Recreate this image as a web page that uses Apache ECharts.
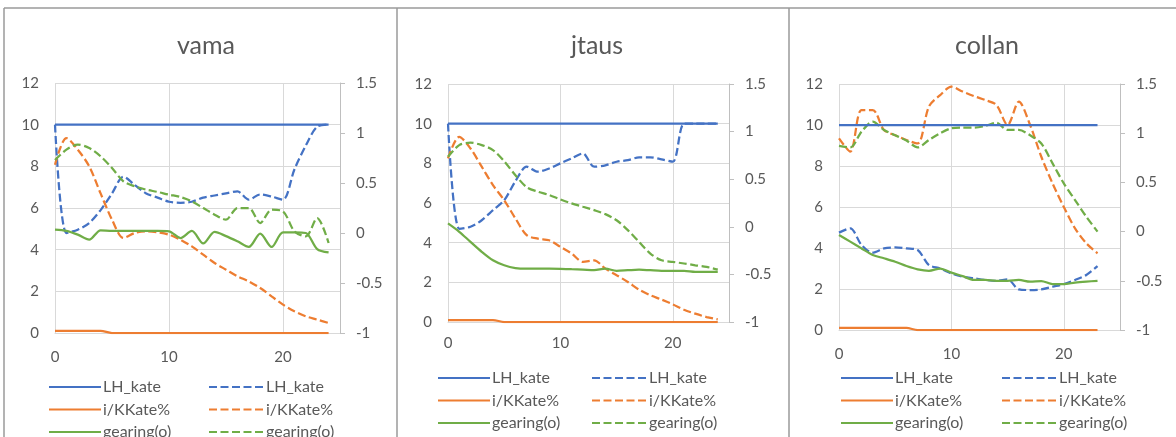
<!DOCTYPE html>
<html>
<head>
<meta charset="utf-8">
<script src="https://cdn.jsdelivr.net/npm/echarts@6/dist/echarts.min.js"></script>
<style>
html,body{margin:0;padding:0;background:#fff;}
#chart{width:1176px;height:437px;}
</style>
</head>
<body>
<div id="chart"></div>
<script>
// ---- data ----
const panelTitles = ['vama', 'jtaus', 'collan'];
const seriesNames = ['LH_kate', 'i/KKate%', 'gearing(o)'];
const leftTicks = { min: 0, max: 12, interval: 2 };
const rightTicks = { min: -1, max: 1.5, interval: 0.5 };
const xTicks = { min: 0, max: 25, interval: 10 };

const xA = [0,1,2,3,4,5,6,7,8,9,10,11,12,13,14,15,16,17,18,19,20,21,22,23,24];
const xC = [0,1,2,3,4,5,6,7,8,9,10,11,12,13,14,15,16,17,18,19,20,21,22,23];

// vama
const vamaLH    = [10,10,10,10,10,10,10,10,10,10,10,10,10,10,10,10,10,10,10,10,10,10,10,10,10];
const vamaKK    = [0.1,0.1,0.1,0.1,0.1,0,0,0,0,0,0,0,0,0,0,0,0,0,0,0,0,0,0,0,0];
const vamaGear  = [4.96,4.9,4.72,4.48,4.93,4.9,4.9,4.9,4.9,4.9,4.88,4.56,4.9,4.3,4.85,4.65,4.4,4.13,4.77,4.13,4.83,4.83,4.8,4.03,3.87];
const vamaLH2   = [10,4.8,4.96,5.28,5.9,6.7,7.5,7.1,6.7,6.5,6.3,6.25,6.3,6.5,6.6,6.7,6.8,6.4,6.65,6.55,6.4,7.85,9.0,9.9,10];
const vamaKK2   = [8.08,9.36,8.8,8.0,6.7,5.44,4.56,4.8,4.88,4.83,4.72,4.48,4.16,3.76,3.36,3.04,2.72,2.48,2.16,1.76,1.36,1.04,0.8,0.64,0.48];
const vamaGear2 = [8.3,8.8,9.04,8.88,8.48,7.92,7.28,7.04,6.88,6.77,6.64,6.53,6.32,6.0,5.68,5.44,6.0,6.0,5.28,5.92,5.84,4.88,4.64,5.52,4.32];

// jtaus
const jtLH    = [10,10,10,10,10,10,10,10,10,10,10,10,10,10,10,10,10,10,10,10,10,10,10,10,10];
const jtKK    = [0.1,0.1,0.1,0.1,0.1,0,0,0,0,0,0,0,0,0,0,0,0,0,0,0,0,0,0,0,0];
const jtGear  = [4.97,4.55,4.04,3.54,3.11,2.86,2.72,2.69,2.69,2.69,2.68,2.66,2.64,2.61,2.69,2.58,2.61,2.64,2.61,2.58,2.58,2.58,2.53,2.53,2.53];
const jtLH2   = [10,4.7,4.8,5.13,5.64,6.14,7.1,7.83,7.58,7.74,8.0,8.25,8.5,7.83,7.9,8.08,8.16,8.3,8.3,8.2,8.08,10,10,10,10];
const jtKK2   = [8.25,9.34,8.75,7.83,6.9,6.14,5.22,4.38,4.2,4.12,3.79,3.45,3.03,3.11,2.69,2.36,2.02,1.63,1.35,1.13,0.89,0.62,0.42,0.25,0.13];
const jtGear2 = [8.33,8.92,9.04,8.92,8.67,8.1,7.4,6.8,6.57,6.4,6.18,5.98,5.81,5.64,5.44,5.13,4.63,4.04,3.45,3.11,3.03,2.95,2.86,2.78,2.64];

// collan
const coLH    = [10,10,10,10,10,10,10,10,10,10,10,10,10,10,10,10,10,10,10,10,10,10,10,10];
const coKK    = [0.1,0.1,0.1,0.1,0.1,0.1,0.1,0,0,0,0,0,0,0,0,0,0,0,0,0,0,0,0,0];
const coGear  = [4.63,4.31,3.98,3.66,3.5,3.33,3.12,2.96,2.89,3.0,2.8,2.63,2.44,2.44,2.4,2.4,2.44,2.36,2.39,2.24,2.24,2.31,2.36,2.4];
const coLH2   = [4.75,4.96,4.15,3.77,3.98,4.03,3.98,3.9,3.17,3.0,2.76,2.6,2.52,2.44,2.4,2.47,1.98,1.95,1.98,2.11,2.24,2.44,2.68,3.12];
const coKK2   = [9.35,8.7,10.73,10.73,9.76,9.5,9.27,9.1,10.9,11.46,11.87,11.63,11.41,11.22,10.98,10.0,11.14,10.0,8.45,7.15,6.0,4.96,4.23,3.74];
const coGear2 = [8.98,8.91,9.67,10.16,9.76,9.5,9.24,8.91,9.27,9.6,9.84,9.87,9.87,9.95,10.11,9.76,9.76,9.5,9.1,8.13,7.15,6.34,5.53,4.8];

const panels = [
  { x: xA, solid: [vamaLH, vamaKK, vamaGear], dashed: [vamaLH2, vamaKK2, vamaGear2] },
  { x: xA, solid: [jtLH, jtKK, jtGear],       dashed: [jtLH2, jtKK2, jtGear2] },
  { x: xC, solid: [coLH, coKK, coGear],       dashed: [coLH2, coKK2, coGear2] }
];

// ---- layout / style ----
const colors = ['#4472C4', '#ED7D31', '#70AD47'];
const FONT = 'Lato';
const txt = '#595959';
const grids = [
  { left: 55,  top: 83, width: 285, height: 250 },
  { left: 448, top: 84, width: 281, height: 238 },
  { left: 839, top: 84, width: 281, height: 246 }
];
const titleX = [201, 592, 982];
const legendPos = [
  { top: 379, c1: 48,  c2: 208 },
  { top: 370, c1: 437, c2: 591 },
  { top: 370, c1: 840, c2: 1001 }
];
const xLabelMargin = [17, 14, 17];

function legendCfg(left, top, data, w) {
  return {
    orient: 'vertical', left: left, top: top, height: 80, padding: 0,
    itemWidth: w, itemHeight: 14, itemGap: 6.5,
    selectedMode: false, data: data,
    itemStyle: { opacity: 0, color: 'rgba(0,0,0,0)', borderWidth: 0 },
    textStyle: { color: txt, fontFamily: FONT, fontSize: 16, padding: [0, 0, 0, -3] }
  };
}

const option = {
  animation: false,
  backgroundColor: '#fff',
  textStyle: { fontFamily: FONT },
  title: panelTitles.map((t, i) => ({
    text: t, left: titleX[i], top: 28, textAlign: 'center',
    textStyle: { fontFamily: FONT, fontSize: 25, fontWeight: 'normal', color: txt }
  })),
  grid: grids,
  xAxis: grids.map((g, i) => ({
    type: 'value', gridIndex: i, min: xTicks.min, max: xTicks.max, interval: xTicks.interval,
    axisLine: { show: true, lineStyle: { color: '#d9d9d9', width: 1 } },
    axisTick: { show: false },
    axisLabel: { color: txt, fontFamily: FONT, fontSize: 15, margin: xLabelMargin[i], showMaxLabel: false },
    splitLine: { show: true, lineStyle: { color: '#d9d9d9', width: 1 } }
  })),
  yAxis: [].concat(...grids.map((g, i) => ([
    {
      type: 'value', gridIndex: i, position: 'left',
      min: leftTicks.min, max: leftTicks.max, interval: leftTicks.interval,
      axisLine: { show: false }, axisTick: { show: false },
      axisLabel: { color: txt, fontFamily: FONT, fontSize: 15, margin: 16 },
      splitLine: { show: true, lineStyle: { color: '#d9d9d9', width: 1 } }
    },
    {
      type: 'value', gridIndex: i, position: 'right',
      min: rightTicks.min, max: rightTicks.max, interval: rightTicks.interval,
      axisLine: { show: true, lineStyle: { color: '#bfbfbf', width: 1 } },
      axisTick: { show: true, length: 5, lineStyle: { color: '#bfbfbf' } },
      axisLabel: { color: txt, fontFamily: FONT, fontSize: 15, margin: 16 },
      splitLine: { show: false }
    }
  ]))),
  legend: [].concat(...legendPos.map(p => ([
    legendCfg(p.c1, p.top, seriesNames.slice(), 52),
    legendCfg(p.c2, p.top, seriesNames.map(n => n + ' '), 55)
  ]))),
  graphic: [
    { type: 'line', shape: { x1: 4, y1: 8, x2: 1176, y2: 8 }, style: { stroke: '#9a9a9a', lineWidth: 1.5 }, silent: true },
    { type: 'line', shape: { x1: 4, y1: 8, x2: 4, y2: 437 }, style: { stroke: '#9a9a9a', lineWidth: 1.5 }, silent: true },
    { type: 'line', shape: { x1: 397, y1: 8, x2: 397, y2: 437 }, style: { stroke: '#9a9a9a', lineWidth: 1.5 }, silent: true },
    { type: 'line', shape: { x1: 789, y1: 8, x2: 789, y2: 437 }, style: { stroke: '#9a9a9a', lineWidth: 1.5 }, silent: true }
  ],
  series: []
};

panels.forEach((p, i) => {
  p.solid.forEach((vals, k) => {
    option.series.push({
      type: 'line', name: seriesNames[k], xAxisIndex: i, yAxisIndex: i * 2,
      data: p.x.map((x, j) => [x, vals[j]]),
      symbol: 'none', smooth: 0.3, color: colors[k],
      lineStyle: { color: colors[k], width: 2.25, type: 'solid' },
      z: 3
    });
  });
  p.dashed.forEach((vals, k) => {
    option.series.push({
      type: 'line', name: seriesNames[k] + ' ', xAxisIndex: i, yAxisIndex: i * 2,
      data: p.x.map((x, j) => [x, vals[j]]),
      symbol: 'none', smooth: 0.3, color: colors[k],
      lineStyle: { color: colors[k], width: 2.25, type: [8, 3.5] },
      z: 2
    });
  });
});

const chart = echarts.init(document.getElementById('chart'), null, { renderer: 'canvas' });
chart.setOption(option);
</script>
</body>
</html>
